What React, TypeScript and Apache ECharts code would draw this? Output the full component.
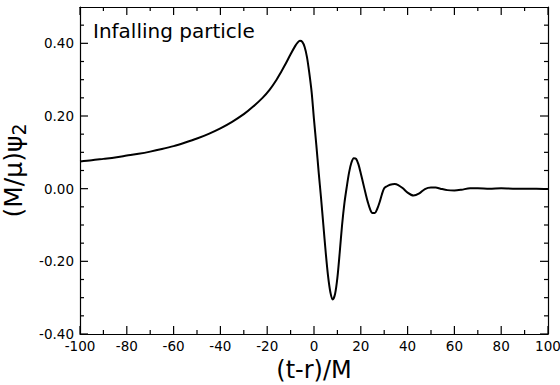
import { useEffect, useRef } from 'react';
import * as echarts from 'echarts';

// (t-r)/M values
const timeM = [
  -100, -95, -90, -85, -80, -75, -70, -65, -60, -55, -50, -45, -40, -35, -30, -26, -22, -19, -16, -14, -12, -10, -8, -7, -6, -5,
  -4, -3, -2, -1, 0, 1, 2, 3, 4, 5, 6, 7, 8, 9, 10, 11, 12, 13, 14, 15, 16, 17, 18, 19, 20, 21, 22, 23, 24, 25, 26, 27, 28, 29,
  30, 31, 32.5, 34.5, 36, 38, 40, 42.5, 45, 47.4, 50, 52, 54, 57, 60, 63, 66.7, 70, 75, 80, 85, 90, 95, 100,
];
// (M/mu) psi_2 values
const psi2 = [
  0.075, 0.078, 0.082, 0.086, 0.091, 0.096, 0.102, 0.109, 0.117, 0.127, 0.138, 0.151, 0.166, 0.184, 0.205, 0.226, 0.25, 0.272,
  0.3, 0.322, 0.345, 0.37, 0.393, 0.402, 0.407, 0.404, 0.39, 0.362, 0.318, 0.265, 0.19, 0.12, 0.045, -0.025, -0.1, -0.175, -0.24,
  -0.285, -0.305, -0.29, -0.245, -0.175, -0.1, -0.04, 0.005, 0.045, 0.072, 0.084, 0.082, 0.067, 0.042, 0.015, -0.012, -0.037,
  -0.057, -0.067, -0.067, -0.056, -0.038, -0.016, 0.001, 0.006, 0.011, 0.013, 0.01, 0.001, -0.011, -0.019, -0.013, -0.001, 0.003,
  0.003, 0.0, -0.004, -0.005, -0.003, 0.001, 0.001, 0.0, 0.001, 0.0, 0.0, 0.0, -0.001,
];

// tick positions (drawn on all four sides, pointing inward)
const xMajorTicks = [-100, -80, -60, -40, -20, 0, 20, 40, 60, 80, 100];
const xMinorTicks = [-90, -70, -50, -30, -10, 10, 30, 50, 70, 90];
const yMajorTicks = [-0.4, -0.2, 0, 0.2, 0.4];
const yMinorTicks = [-0.35, -0.3, -0.25, -0.15, -0.1, -0.05, 0.05, 0.1, 0.15, 0.25, 0.3, 0.35, 0.45];

const xMin = -100;
const xMax = 100;
const xStep = 20;
const yMin = -0.4;
const yMax = 0.5;
const yStep = 0.2;

const FONT = 'DejaVu Sans';
const MAJOR_LEN = 8;
const MINOR_LEN = 4;

export default function App() {
  const ref = useRef<HTMLDivElement>(null);
  useEffect(() => {
    document.body.style.margin = '0';
    if (!ref.current) return;
    const chart = echarts.init(ref.current, undefined, { renderer: 'svg' });
    const data = timeM.map((t, i) => [t, psi2[i]]);
    const black = '#000';
    const lineStyle = { color: black, width: 1.2 };
    const tickLine = { stroke: black, lineWidth: 1.2 };

    const frameX = {
      type: 'value' as const,
      min: xMin,
      max: xMax,
      interval: xStep,
      splitLine: { show: false },
      axisLine: { show: true, onZero: false, lineStyle },
      axisTick: { show: false },
    };
    const frameY = {
      type: 'value' as const,
      min: yMin,
      max: yMax,
      interval: yStep,
      splitLine: { show: false },
      axisLine: { show: true, onZero: false, lineStyle },
      axisTick: { show: false },
    };

    const xTickSeries = (ticks: number[], len: number) => ({
      type: 'custom' as const,
      xAxisIndex: 0,
      yAxisIndex: 0,
      silent: true,
      z: 5,
      data: ticks.map((t) => [t, yMin]),
      renderItem: (_p: any, api: any) => {
        const t = api.value(0);
        const b = api.coord([t, yMin]);
        const tp = api.coord([t, yMax]);
        return {
          type: 'group',
          children: [
            { type: 'line', shape: { x1: b[0], y1: b[1], x2: b[0], y2: b[1] - len }, style: tickLine },
            { type: 'line', shape: { x1: tp[0], y1: tp[1], x2: tp[0], y2: tp[1] + len }, style: tickLine },
          ],
        };
      },
    });
    const yTickSeries = (ticks: number[], len: number) => ({
      type: 'custom' as const,
      xAxisIndex: 0,
      yAxisIndex: 0,
      silent: true,
      z: 5,
      data: ticks.map((v) => [xMin, v]),
      renderItem: (_p: any, api: any) => {
        const v = api.value(1);
        const l = api.coord([xMin, v]);
        const r = api.coord([xMax, v]);
        return {
          type: 'group',
          children: [
            { type: 'line', shape: { x1: l[0], y1: l[1], x2: l[0] + len, y2: l[1] }, style: tickLine },
            { type: 'line', shape: { x1: r[0], y1: r[1], x2: r[0] - len, y2: r[1] }, style: tickLine },
          ],
        };
      },
    });

    chart.setOption({
      animation: false,
      backgroundColor: '#fff',
      grid: { left: 80, right: 12, top: 7, bottom: 51, containLabel: false, outerBoundsMode: 'none' },
      xAxis: [
        {
          ...frameX,
          position: 'bottom',
          name: '(t-r)/M',
          nameLocation: 'middle',
          nameGap: 21,
          nameTextStyle: { fontFamily: FONT, fontSize: 24, color: black },
          axisLabel: {
            show: true,
            fontFamily: FONT,
            fontSize: 13.5,
            color: black,
            margin: 5,
            showMinLabel: true,
            showMaxLabel: true,
            hideOverlap: false,
          },
        },
        { ...frameX, position: 'top', axisLabel: { show: false } },
      ],
      yAxis: [
        {
          ...frameY,
          position: 'left',
          name: '(M/μ)ψ{sub|2}',
          nameLocation: 'middle',
          nameRotate: 90,
          nameGap: 31,
          nameTextStyle: {
            fontFamily: FONT,
            fontSize: 25,
            lineHeight: 30,
            color: black,
            rich: { sub: { fontFamily: FONT, fontSize: 19, lineHeight: 19, verticalAlign: 'bottom', color: black } },
          },
          axisLabel: {
            show: true,
            fontFamily: FONT,
            fontSize: 13.5,
            color: black,
            margin: 6,
            showMaxLabel: false,
            formatter: (v: number) => v.toFixed(2),
          },
        },
        { ...frameY, position: 'right', axisLabel: { show: false } },
      ],
      graphic: [
        {
          type: 'text',
          left: 93,
          top: 21,
          style: { text: 'Infalling particle', fontFamily: FONT, fontSize: 20, fill: black },
        },
      ],
      series: [
        {
          type: 'line',
          xAxisIndex: 0,
          yAxisIndex: 0,
          data,
          smooth: 0.3,
          showSymbol: false,
          symbol: 'none',
          clip: true,
          lineStyle: { color: black, width: 2 },
        },
        xTickSeries(xMajorTicks, MAJOR_LEN),
        xTickSeries(xMinorTicks, MINOR_LEN),
        yTickSeries(yMajorTicks, MAJOR_LEN),
        yTickSeries(yMinorTicks, MINOR_LEN),
      ],
    });
    return () => chart.dispose();
  }, []);
  return <div ref={ref} style={{ width: 560, height: 385 }} />;
}
